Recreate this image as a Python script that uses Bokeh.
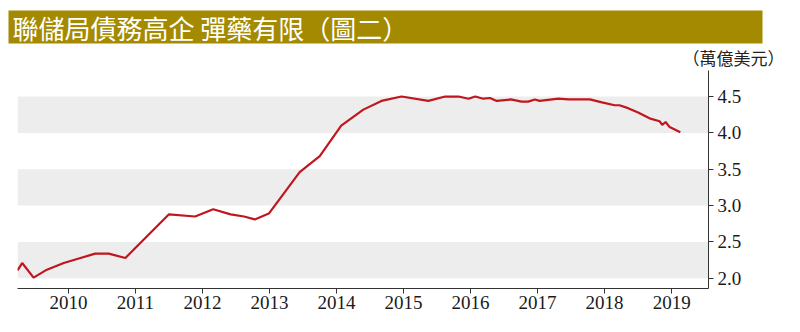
from bokeh.plotting import figure
from bokeh.models import Range1d, FixedTicker, PrintfTickFormatter, BoxAnnotation, Label
from bokeh.embed import file_html
from bokeh.resources import INLINE

title_text = "聯儲局債務高企 彈藥有限（圖二）"
unit_text = "（萬億美元）"

# decimal year, value (trillion USD)
years = [2009.24, 2009.31, 2009.48, 2009.66, 2009.93, 2010.18, 2010.40, 2010.60, 2010.85,
         2011.50, 2011.89, 2012.16, 2012.42, 2012.62, 2012.78, 2012.99, 2013.45, 2013.75,
         2014.07, 2014.40, 2014.67, 2014.97, 2015.37, 2015.62, 2015.82, 2015.97, 2016.07,
         2016.19, 2016.29, 2016.39, 2016.60, 2016.76, 2016.86, 2016.96, 2017.03, 2017.31,
         2017.46, 2017.78, 2017.96, 2018.15, 2018.22, 2018.35, 2018.50, 2018.67, 2018.82,
         2018.86, 2018.91, 2018.97, 2019.13]
values = [2.11, 2.21, 2.01, 2.11, 2.21, 2.28, 2.34, 2.34, 2.28,
          2.88, 2.85, 2.95, 2.88, 2.85, 2.81, 2.89, 3.46, 3.68,
          4.10, 4.32, 4.44, 4.50, 4.44, 4.50, 4.50, 4.47, 4.50,
          4.47, 4.48, 4.44, 4.46, 4.43, 4.43, 4.46, 4.44, 4.47,
          4.46, 4.46, 4.42, 4.38, 4.38, 4.34, 4.28, 4.20, 4.16,
          4.11, 4.15, 4.08, 4.01]

x_ticks = [2010, 2011, 2012, 2013, 2014, 2015, 2016, 2017, 2018, 2019]
y_ticks = [2.0, 2.5, 3.0, 3.5, 4.0, 4.5]
bands = [(2.0, 2.5), (3.0, 3.5), (4.0, 4.5)]

W = 800
HEAD_H = 70
MAIN_H = 332 - HEAD_H

# ---- header (title banner + unit label), coordinates in page pixels
h = figure(width=W, height=HEAD_H, x_range=Range1d(0, W), y_range=Range1d(HEAD_H, 0),
           x_axis_location=None, y_axis_location=None, min_border=0,
           toolbar_location=None, output_backend="svg")
h.grid.visible = False
h.outline_line_color = None
h.add_layout(BoxAnnotation(left=8, right=762, top=10, bottom=43,
                           fill_color="#A38A00", fill_alpha=1, line_color=None))
h.add_layout(Label(x=12, y=27, text=title_text, text_color="white",
                   text_font="Noto Sans CJK TC", text_font_size="26px",
                   text_baseline="middle", text_align="left"))
h.add_layout(Label(x=682, y=57, text=unit_text, text_color="#222222",
                   text_font="Noto Sans CJK TC", text_font_size="17px",
                   text_baseline="middle", text_align="left"))

# ---- main chart
p = figure(width=W, height=MAIN_H, x_range=Range1d(2009.24, 2019.55), y_range=Range1d(1.86, 4.858),
           y_axis_location="right", toolbar_location=None, output_backend="svg",
           min_border_left=17, min_border_right=92, min_border_top=0, min_border_bottom=44)
p.grid.visible = False
p.outline_line_color = None

for b0, b1 in bands:
    p.add_layout(BoxAnnotation(bottom=b0, top=b1, fill_color="#EDEDED", fill_alpha=1,
                               line_color=None, level="underlay"))

p.line(years, values, line_color="#C0161E", line_width=2.2)

for ax in (p.xaxis[0], p.yaxis[0]):
    ax.axis_line_color = "#333333"
    ax.major_tick_line_color = "#333333"
    ax.major_tick_in = 0
    ax.major_tick_out = 5
    ax.minor_tick_line_color = None
    ax.major_label_text_font = "Liberation Serif"
    ax.major_label_text_font_size = "19px"
    ax.major_label_text_color = "#1a1a1a"

p.xaxis.ticker = FixedTicker(ticks=x_ticks)
p.xaxis.formatter = PrintfTickFormatter(format="%d")
p.xaxis.major_label_standoff = 2
p.yaxis.ticker = FixedTicker(ticks=y_ticks)
p.yaxis.formatter = PrintfTickFormatter(format="%.1f")
p.yaxis.major_label_standoff = 4

open("out.html", "w").write(file_html([h, p], INLINE))
